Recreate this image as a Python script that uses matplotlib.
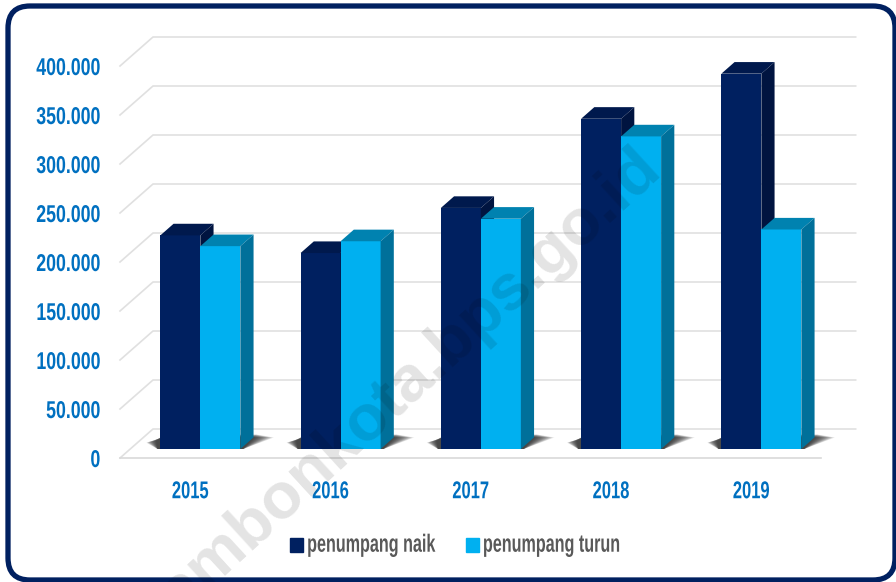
import matplotlib

matplotlib.use("Agg")
import matplotlib.pyplot as plt
from matplotlib.patches import FancyBboxPatch, Patch, Polygon
from matplotlib.patheffects import AbstractPathEffect
from matplotlib.transforms import Affine2D, IdentityTransform

years = ["2015", "2016", "2017", "2018", "2019"]
naik = [218000, 200000, 246000, 337000, 383000]
turun = [207000, 212000, 235000, 319000, 224000]
y_ticks = [0, 50000, 100000, 150000, 200000, 250000, 300000, 350000, 400000]
y_labels = ["0", "50.000", "100.000", "150.000", "200.000", "250.000", "300.000", "350.000", "400.000"]
series_names = ["penumpang naik", "penumpang turun"]

W, H = 896, 582
FONT = ["Liberation Sans", "DejaVu Sans"]

# oblique depth of the fake 3d box, in data units
DEPTH_X = 33 / 140.25
DEPTH_Y = 29 / 49 * 50000
BAR_W = 40 / 140.25
D_FRONT, D_BACK = 0.31, 0.71


class Squeeze(AbstractPathEffect):
    """No condensed font installed, so reshape the glyphs around an anchor."""

    def __init__(self, sx, anchor=0.0, sy=1.0):
        super().__init__()
        self.sx, self.anchor, self.sy = sx, anchor, sy

    def draw_path(self, renderer, gc, tpath, affine, rgbFace=None):
        ext = tpath.get_extents()
        a = ext.x0 + self.anchor * ext.width
        t = Affine2D().translate(-a, 0).scale(self.sx, self.sy).translate(a, 0)
        renderer.draw_path(gc, tpath, t + affine, rgbFace)


def shift(x, v, d):
    return x + d * DEPTH_X, v + d * DEPTH_Y


def box(ax, x0, v, front, top, side):
    # front face is a real bar, top and side are sheared polygons
    bx, by = shift(x0, 0, D_FRONT)
    ax.bar(bx, v, BAR_W, bottom=by, align="edge", color=front, zorder=4, clip_on=False)
    dd = D_BACK - D_FRONT
    ox, oy = dd * DEPTH_X, dd * DEPTH_Y
    r = bx + BAR_W
    ax.add_patch(Polygon([(bx, by + v), (r, by + v), (r + ox, by + v + oy), (bx + ox, by + v + oy)],
                         color=top, lw=0, zorder=4, clip_on=False))
    ax.add_patch(Polygon([(r, by), (r + ox, by + oy), (r + ox, by + v + oy), (r, by + v)],
                         color=side, lw=0, zorder=4, clip_on=False))


def shadow(ax, i):
    # soft floor shadow: stack of faint polygons, narrower = darker
    bx, by = shift(i - BAR_W, 0, D_FRONT)
    r = bx + 2 * BAR_W
    n = 14
    for k in range(n):
        f = k / (n - 1)
        left = bx - 0.03 - (1 - f) * 0.07
        right = r + 0.12 + (1 - f) * 0.12
        h = (0.5 - 0.1 * (1 - f)) * DEPTH_Y
        pts = [(bx - 0.02, by), (left, by + h * 0.55), (bx + 0.03, by + h), (right, by + h), (r + 0.02, by)]
        ax.add_patch(Polygon(pts, color="#2e2e2e", alpha=0.13, lw=0, zorder=3, clip_on=False))


fig = plt.figure(figsize=(W / 100, H / 100), dpi=100, facecolor="white")
frame = FancyBboxPatch((28, 22), 847, 534, transform=IdentityTransform(),
                       boxstyle="round,pad=20,rounding_size=22", fc="white", ec="#002060", lw=3.8, zorder=-1)
fig.add_artist(frame)

ax = fig.add_axes([120 / W, 1 - 458 / H, 700 / W, 392 / H])
ax.patch.set_alpha(0)
ax.set_xlim(-0.5, 4.491)
ax.set_ylim(0, 400000)
for sp in ax.spines.values():
    sp.set_visible(False)

# back wall / floor grid
for v in y_ticks:
    xb, yb = shift(-0.5, v, 1)
    ax.plot([-0.5, xb, 4.5 + DEPTH_X + 0.01], [v, yb, yb], color="#e0e0e0", lw=1.2, zorder=1, clip_on=False)
ax.plot([-0.5, 4.5], [0, 0], color="#d9d9d9", lw=1.2, zorder=1, clip_on=False)

for i in range(len(years)):
    shadow(ax, i)
    box(ax, i - BAR_W, naik[i], "#002060", "#00194d", "#001440")
    box(ax, i, turun[i], "#00B0F0", "#0082B0", "#00709A")

ax.set_xticks(range(len(years)), years)
ax.set_yticks(y_ticks, y_labels)
ax.tick_params(axis="both", length=0, labelcolor="#0070C0")
ax.tick_params(axis="y", pad=14)
ax.tick_params(axis="x", pad=16)
for lab in ax.get_yticklabels():
    lab.set(fontfamily=FONT, fontweight="bold", fontsize=17.5, path_effects=[Squeeze(0.73, 1.0)])
for lab in ax.get_xticklabels():
    lab.set(fontfamily=FONT, fontweight="bold", fontsize=17.5, path_effects=[Squeeze(0.68, 0.5)])

handles = [Patch(color="#002060", label=series_names[0]), Patch(color="#00B0F0", label=series_names[1])]
leg = fig.legend(handles=handles, ncols=2, frameon=False, loc="center left", bbox_to_anchor=(290 / W, 1 - 547 / H),
                 prop={"family": FONT, "weight": "bold", "size": 14}, labelcolor="#595959",
                 borderpad=0, borderaxespad=0,
                 handlelength=0.67, handleheight=0.67, handletextpad=0.2, columnspacing=0.2)
for t in leg.get_texts():
    t.set_path_effects([Squeeze(0.83, 0.0, 1.28)])

# site watermark over everything
fig.text(410 / W, 1 - 382 / H, "ambonkota.bps.go.id", rotation=42.5, rotation_mode="anchor",
         ha="center", va="center", family=FONT, weight="bold", size=47,
         color="black", alpha=0.11, zorder=10)

fig.savefig("out.png", dpi=100)
